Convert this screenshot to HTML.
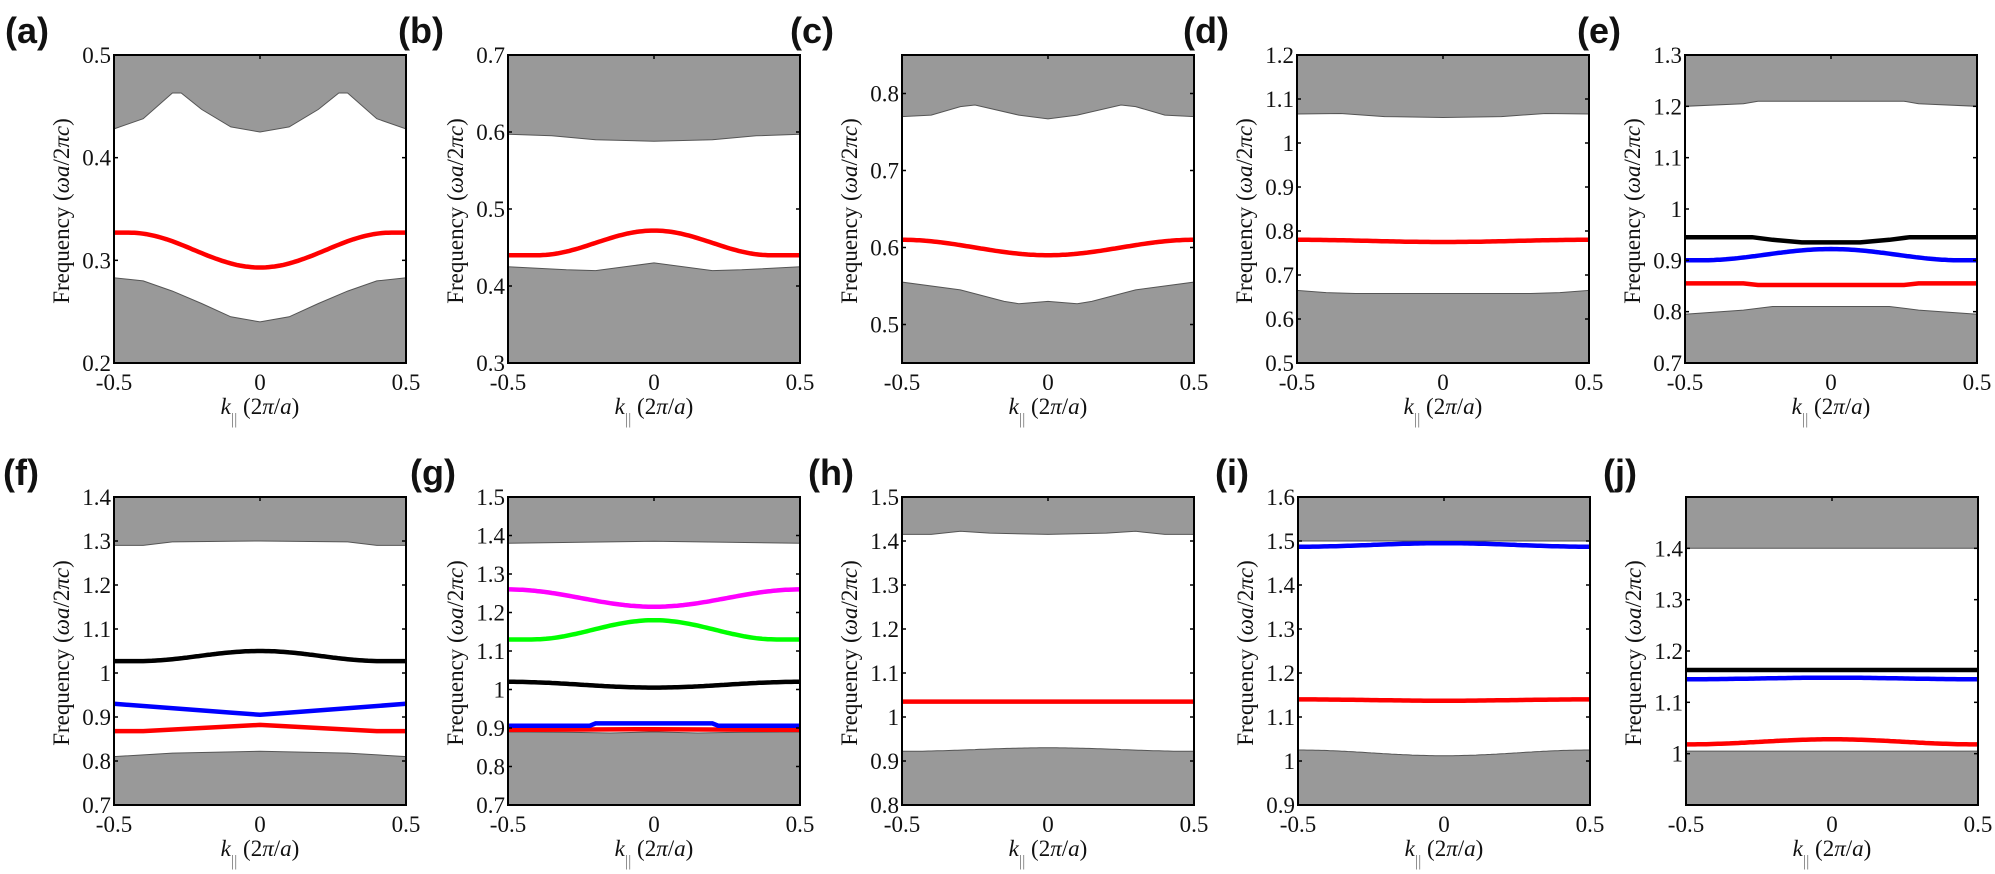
<!DOCTYPE html>
<html><head><meta charset="utf-8"><style>
html,body{margin:0;padding:0;background:#fff;}
svg{display:block;}
.t{font-family:"Liberation Serif",serif;font-size:23px;fill:#111;}
.yl{font-family:"Liberation Serif",serif;font-size:23px;fill:#111;}
.pl{font-family:"Liberation Sans",sans-serif;font-size:36px;font-weight:bold;fill:#111;}
</style></head><body>
<svg id="s" width="1995" height="874" viewBox="0 0 1995 874" xmlns="http://www.w3.org/2000/svg"></svg>
<script>
function sym(p){var a=[];for(var i=p.length-1;i>0;i--)a.push([-p[i][0],p[i][1]]);return a.concat(p);}
function cs(c,e,w){w=w||0.5;var a=[];for(var i=0;i<=100;i++){var k=-0.5+i/100;var g=Math.abs(k)<w?(1+Math.cos(Math.PI*k/w))/2:0;a.push([k,e+(c-e)*g]);}return a;}
function fl(v){return [[-0.5,v],[0.5,v]];}
var R='#ff0000',B='#0000ff',K='#000000',M='#ff00ff',G='#00ff00';
var P=[
{l:'(a)',lx:5,ly:43,x:114,y:55,y0:.2,y1:.5,ticks:[.2,.3,.4,.5],top:sym([[0,.425],[.1,.43],[.2,.447],[.27,.463],[.3,.463],[.4,.438],[.5,.428]]),bot:sym([[0,.24],[.1,.245],[.2,.258],[.3,.27],[.4,.28],[.5,.283]]),lines:[[cs(.293,.327,.45),R]]},
{l:'(b)',lx:398,ly:43,x:508,y:55,y0:.3,y1:.7,ticks:[.3,.4,.5,.6,.7],top:sym([[0,.588],[.2,.59],[.35,.595],[.5,.597]]),bot:sym([[0,.43],[.1,.425],[.2,.42],[.3,.421],[.5,.425]]),lines:[[cs(.472,.44,.4),R]]},
{l:'(c)',lx:790,ly:43,x:902,y:55,y0:.45,y1:.85,ticks:[.5,.6,.7,.8],top:sym([[0,.767],[.1,.772],[.25,.785],[.3,.783],[.4,.772],[.5,.77]]),bot:sym([[0,.53],[.1,.527],[.15,.53],[.3,.545],[.5,.555]]),lines:[[cs(.59,.61),R]]},
{l:'(d)',lx:1183,ly:43,x:1297,y:55,y0:.5,y1:1.2,ticks:[.5,.6,.7,.8,.9,1,1.1,1.2],top:sym([[0,1.058],[.2,1.06],[.35,1.067],[.5,1.066]]),bot:sym([[0,.658],[.3,.658],[.4,.66],[.5,.665]]),lines:[[cs(.775,.78),R]]},
{l:'(e)',lx:1577,ly:43,x:1685,y:55,y0:.7,y1:1.3,ticks:[.7,.8,.9,1,1.1,1.2,1.3],top:sym([[0,1.21],[.25,1.21],[.3,1.205],[.5,1.2]]),bot:sym([[0,.81],[.2,.81],[.3,.803],[.5,.795]]),lines:[[sym([[0,.935],[.1,.935],[.2,.94],[.27,.945],[.5,.945]]),K],[cs(.922,.9,.45),B],[sym([[0,.852],[.25,.852],[.3,.855],[.5,.855]]),R]]},
{l:'(f)',lx:3,ly:485,x:114,y:497,y0:.7,y1:1.4,ticks:[.7,.8,.9,1,1.1,1.2,1.3,1.4],top:sym([[0,1.3],[.3,1.298],[.4,1.29],[.5,1.29]]),bot:sym([[0,.822],[.3,.818],[.5,.81]]),lines:[[cs(1.05,1.027,.42),K],[sym([[0,.905],[.1,.91],[.5,.93]]),B],[sym([[0,.882],[.4,.868],[.5,.868]]),R]]},
{l:'(g)',lx:410,ly:485,x:508,y:497,y0:.7,y1:1.5,ticks:[.7,.8,.9,1,1.1,1.2,1.3,1.4,1.5],top:sym([[0,1.385],[.5,1.38]]),bot:sym([[0,.89],[.15,.887],[.3,.889],[.5,.89]]),lines:[[cs(1.215,1.26),M],[cs(1.18,1.13,.42),G],[cs(1.005,1.02),K],[sym([[0,.897],[.5,.895]]),R],[sym([[0,.912],[.2,.912],[.22,.906],[.5,.906]]),B]]},
{l:'(h)',lx:808,ly:485,x:902,y:497,y0:.8,y1:1.5,ticks:[.8,.9,1,1.1,1.2,1.3,1.4,1.5],top:sym([[0,1.415],[.2,1.418],[.3,1.422],[.4,1.415],[.5,1.415]]),bot:cs(.93,.922),lines:[[fl(1.035),R]]},
{l:'(i)',lx:1215,ly:485,x:1298,y:497,y0:.9,y1:1.6,ticks:[.9,1,1.1,1.2,1.3,1.4,1.5,1.6],top:fl(1.5),bot:cs(1.012,1.025),lines:[[cs(1.495,1.487),B],[cs(1.137,1.14),R]]},
{l:'(j)',lx:1603,ly:485,x:1686,y:497,y0:.9,y1:1.5,ticks:[1,1.1,1.2,1.3,1.4],top:fl(1.4),bot:fl(1.005),lines:[[fl(1.163),K],[cs(1.148,1.145),B],[cs(1.028,1.018),R]]}
];
var W=292,H=308,o='';
function fmt(v){return (Math.round(v*10)/10).toString();}
P.forEach(function(p){
 var X=function(k){return p.x+(k+0.5)*W;},Y=function(v){return p.y+(p.y1-v)/(p.y1-p.y0)*H;};
 var pts=function(a){return a.map(function(q){return X(q[0]).toFixed(1)+','+Y(q[1]).toFixed(1);}).join(' ');};
 o+='<rect x="'+p.x+'" y="'+p.y+'" width="'+W+'" height="'+H+'" fill="#fff"/>';
 o+='<polygon fill="#999" stroke="#555" stroke-width="1" points="'+p.x+','+p.y+' '+pts(p.top)+' '+(p.x+W)+','+p.y+'"/>';
 o+='<polygon fill="#999" stroke="#555" stroke-width="1" points="'+p.x+','+(p.y+H)+' '+pts(p.bot)+' '+(p.x+W)+','+(p.y+H)+'"/>';
 p.lines.forEach(function(L){o+='<polyline fill="none" stroke="'+L[1]+'" stroke-width="4.5" points="'+pts(L[0])+'"/>';});
 p.ticks.forEach(function(v){var y=Y(v);o+='<line x1="'+p.x+'" x2="'+(p.x+4)+'" y1="'+y+'" y2="'+y+'" stroke="#000" stroke-width="1.5"/><line x1="'+(p.x+W-4)+'" x2="'+(p.x+W)+'" y1="'+y+'" y2="'+y+'" stroke="#000" stroke-width="1.5"/>';
  o+='<text class="t" x="'+(p.x-3)+'" y="'+(y+8)+'" text-anchor="end">'+fmt(v)+'</text>';});
 [-0.5,0,0.5].forEach(function(k){var x=X(k);o+='<line x1="'+x+'" x2="'+x+'" y1="'+p.y+'" y2="'+(p.y+4)+'" stroke="#000" stroke-width="1.5"/>';
  o+='<text class="t" x="'+x+'" y="'+(p.y+H+27)+'" text-anchor="middle">'+(k==0?'0':k.toString())+'</text>';});
 o+='<rect x="'+p.x+'" y="'+p.y+'" width="'+W+'" height="'+H+'" fill="none" stroke="#000" stroke-width="2"/>';
 var cy=p.y+H/2+2, lx=p.x-45;
 o+='<text class="yl" transform="translate('+lx+','+cy+') rotate(-90)" text-anchor="middle">Frequency (<tspan font-style="italic">ωa</tspan>/2<tspan font-style="italic">πc</tspan>)</text>';
 var cx=p.x+W/2;
 o+='<text class="t" x="'+cx+'" y="'+(p.y+H+51)+'" text-anchor="middle"><tspan font-style="italic">k</tspan><tspan font-size="16" dy="10" fill="#777">||</tspan><tspan dy="-10"> (2</tspan><tspan font-style="italic">π</tspan>/<tspan font-style="italic">a</tspan>)</text>';
 o+='<text class="pl" x="'+p.lx+'" y="'+p.ly+'">'+p.l+'</text>';
});
document.getElementById('s').innerHTML=o;
</script>
</body></html>
